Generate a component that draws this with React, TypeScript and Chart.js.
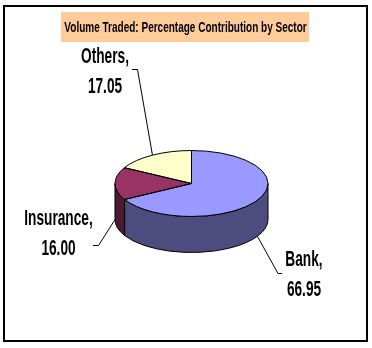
import React, { useEffect, useRef } from "react";
import { Chart, registerables } from "chart.js";

Chart.register(...registerables);

const categories = ["Bank", "Insurance", "Others"];
const values = [66.95, 16.0, 17.05];
const valueLabels = ["66.95", "16.00", "17.05"];
const topColors = ["#9999FF", "#993366", "#FFFFCC"];
const sideColors = ["#4C4C7F", "#4D1933", "#80806A"];
const titleText = "Volume Traded: Percentage Contribution by Sector";

// layout (positions only)
const ELLIPSE_RATIO = 0.431;
const DEPTH = 36;
const labelLayout = [
  { cx: 304, base1: 266, base2: 296, elbow: [278, 273.5], end: [282, 273.5] },
  { cx: 58.5, base1: 225, base2: 254.5, elbow: [98.5, 245.5], end: [93, 245.5] },
  { cx: 105, base1: 62.5, base2: 92.5, elbow: [137.5, 69.5], end: [132, 69.5] },
];

function stretchText(ctx: CanvasRenderingContext2D, text: string, x: number, y: number, size: number, sx: number, sy: number) {
  ctx.save();
  ctx.translate(x, y);
  ctx.scale(sx, sy);
  ctx.font = `bold ${size}px "Liberation Sans", Arial, sans-serif`;
  ctx.textAlign = "center";
  ctx.textBaseline = "alphabetic";
  ctx.fillStyle = "#000";
  ctx.fillText(text, 0, 0);
  ctx.restore();
}

const pie3d = {
  id: "pie3d",
  beforeDraw(chart: any) {
    const ctx = chart.ctx as CanvasRenderingContext2D;
    ctx.save();
    ctx.fillStyle = "#fff";
    ctx.fillRect(0, 0, chart.width, chart.height);
    ctx.restore();
  },
  beforeDatasetsDraw(chart: any) {
    const ctx = chart.ctx as CanvasRenderingContext2D;
    const arcs = chart.getDatasetMeta(0).data;
    ctx.save();
    ctx.lineWidth = 1;
    ctx.strokeStyle = "#000";
    arcs.forEach((el: any, i: number) => {
      const { x, y, startAngle, endAngle, outerRadius } = el;
      const rx = outerRadius;
      const ry = outerRadius * ELLIPSE_RATIO;
      for (const off of [-2 * Math.PI, 0, 2 * Math.PI]) {
        const a = Math.max(startAngle, off);
        const b = Math.min(endAngle, off + Math.PI);
        if (b - a <= 0.0001) continue;
        ctx.beginPath();
        ctx.moveTo(x + rx * Math.cos(a), y + ry * Math.sin(a));
        ctx.ellipse(x, y, rx, ry, 0, a, b);
        ctx.lineTo(x + rx * Math.cos(b), y + DEPTH + ry * Math.sin(b));
        ctx.ellipse(x, y + DEPTH, rx, ry, 0, b, a, true);
        ctx.closePath();
        ctx.fillStyle = sideColors[i];
        ctx.fill();
        ctx.stroke();
      }
    });
    ctx.restore();
    // flatten the top face into an ellipse
    const el0 = arcs[0];
    ctx.save();
    ctx.translate(el0.x, el0.y);
    ctx.scale(1, ELLIPSE_RATIO);
    ctx.translate(-el0.x, -el0.y);
  },
  afterDatasetsDraw(chart: any) {
    const ctx = chart.ctx as CanvasRenderingContext2D;
    ctx.restore();
    const arcs = chart.getDatasetMeta(0).data;
    ctx.save();
    ctx.lineWidth = 1;
    ctx.strokeStyle = "#000";
    arcs.forEach((el: any) => {
      const { x, y, startAngle, endAngle, outerRadius } = el;
      const rx = outerRadius;
      const ry = outerRadius * ELLIPSE_RATIO;
      ctx.beginPath();
      ctx.moveTo(x, y);
      ctx.lineTo(x + rx * Math.cos(startAngle), y + ry * Math.sin(startAngle));
      ctx.ellipse(x, y, rx, ry, 0, startAngle, endAngle);
      ctx.closePath();
      ctx.stroke();
    });
    // leader lines + labels
    arcs.forEach((el: any, i: number) => {
      const { x, y, startAngle, endAngle, outerRadius } = el;
      const rx = outerRadius;
      const ry = outerRadius * ELLIPSE_RATIO;
      const mid = (startAngle + endAngle) / 2;
      const s = Math.sin(mid);
      const px = x + rx * Math.cos(mid);
      const py = y + ry * s + (s > 0 ? DEPTH : 0);
      const L = labelLayout[i];
      ctx.beginPath();
      ctx.moveTo(px, py);
      ctx.lineTo(L.elbow[0], L.elbow[1]);
      ctx.lineTo(L.end[0], L.end[1]);
      ctx.stroke();
      stretchText(ctx, categories[i] + ",", L.cx, L.base1, 18, 0.76, 1.22);
      stretchText(ctx, valueLabels[i], L.cx, L.base2, 18, 0.76, 1.22);
    });
    ctx.restore();
  },
  afterDraw(chart: any) {
    const ctx = chart.ctx as CanvasRenderingContext2D;
    ctx.save();
    ctx.fillStyle = "#FFCC99";
    ctx.fillRect(61, 12, 248, 30);
    stretchText(ctx, titleText, 185.5, 32, 13, 0.77, 1.18);
    ctx.strokeStyle = "#000";
    ctx.lineWidth = 2;
    ctx.strokeRect(4, 6, 363, 335);
    ctx.restore();
  },
};

export default function App() {
  const ref = useRef<HTMLCanvasElement>(null);
  useEffect(() => {
    document.body.style.margin = "0";
    const chart = new Chart(ref.current as HTMLCanvasElement, {
      type: "pie",
      data: {
        labels: categories,
        datasets: [
          {
            data: values,
            backgroundColor: topColors,
            borderWidth: 0,
          },
        ],
      },
      options: {
        animation: false,
        responsive: false,
        devicePixelRatio: 1,
        events: [],
        layout: { padding: { left: 115, right: 104, top: 107, bottom: 88 } },
        plugins: { legend: { display: false }, tooltip: { enabled: false }, title: { display: false } },
      },
      plugins: [pie3d],
    });
    return () => chart.destroy();
  }, []);
  return (
    <div style={{ width: 372, height: 348 }}>
      <canvas ref={ref} width={372} height={348} style={{ display: "block" }} />
    </div>
  );
}
